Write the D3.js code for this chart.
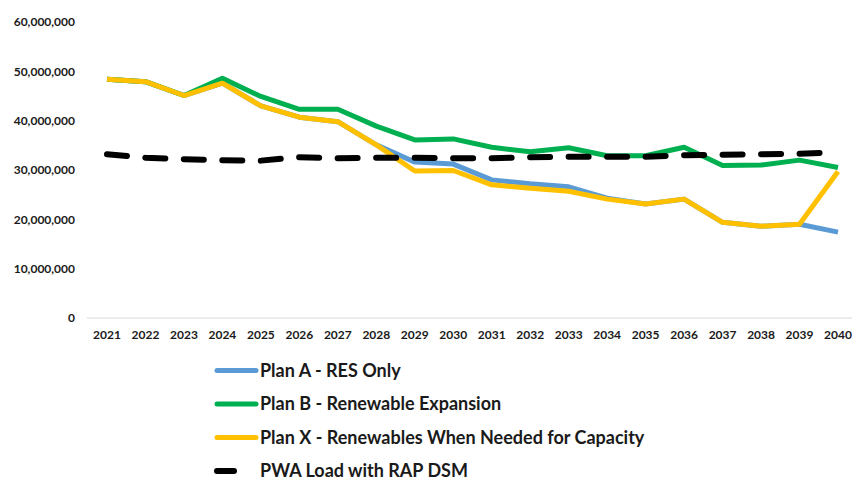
<!DOCTYPE html>
<html><head><meta charset="utf-8">
<script src="https://cdn.jsdelivr.net/npm/d3@7"></script>
<style>body{margin:0;background:#fff;} text{font-family:Lato,"Open Sans",sans-serif;font-weight:bold;fill:#1a1a1a;}</style>
</head><body><svg id="c" width="852" height="481"></svg>
<script>
const years = [2021,2022,2023,2024,2025,2026,2027,2028,2029,2030,2031,2032,2033,2034,2035,2036,2037,2038,2039,2040];
const planA = [48.4,47.9,45.1,47.6,43.0,40.7,39.8,35.1,31.6,31.2,28.0,27.2,26.6,24.3,23.1,24.1,19.4,18.6,19.0,17.4].map(v=>v*1e6);
const planB = [48.4,47.9,45.1,48.6,44.9,42.3,42.3,38.9,36.1,36.3,34.6,33.7,34.5,32.9,32.9,34.6,30.9,31.0,32.0,30.5].map(v=>v*1e6);
const planX = [48.4,47.9,45.1,47.6,43.0,40.7,39.8,35.1,29.8,29.9,27.0,26.3,25.7,24.1,23.1,24.1,19.4,18.6,19.0,29.7].map(v=>v*1e6);
const pwa   = [33.2,32.5,32.2,32.0,31.9,32.6,32.4,32.5,32.5,32.4,32.4,32.6,32.7,32.7,32.7,33.0,33.1,33.2,33.3,33.6].map(v=>v*1e6);
const yTicks = [0,10e6,20e6,30e6,40e6,50e6,60e6];
const seriesNames = ["Plan A - RES Only","Plan B - Renewable Expansion","Plan X - Renewables When Needed for Capacity","PWA Load with RAP DSM"];

const svg = d3.select("#c");
const x = d3.scalePoint().domain(years).range([107,838]);
const y = d3.scaleLinear().domain([0,60e6]).range([318,22]);

svg.append("line").attr("x1",87).attr("x2",852).attr("y1",y(0)).attr("y2",y(0)).attr("stroke","#d9d9d9").attr("stroke-width",1.2);

svg.append("g").selectAll("text").data(yTicks).join("text")
  .attr("x",75).attr("y",d=>y(d)).attr("dy","0.35em").attr("text-anchor","end")
  .attr("font-size",12).text(d=>d3.format(",")(d));
svg.append("g").selectAll("text").data(years).join("text")
  .attr("x",d=>x(d)).attr("y",335).attr("dy","0.35em").attr("text-anchor","middle")
  .attr("font-size",12).text(d=>d);

const line = d3.line().x((d,i)=>x(years[i])).y(d=>y(d));
const series = [
  {name:seriesNames[0], data:planA, color:"#5b9bd5", dash:null},
  {name:seriesNames[1], data:planB, color:"#00b050", dash:null},
  {name:seriesNames[2], data:planX, color:"#ffc000", dash:null},
  {name:seriesNames[3], data:pwa, color:"#000000", dash:"20,18.5"}
];
svg.append("g").selectAll("path").data(series).join("path")
  .attr("d",d=>line(d.data)).attr("fill","none").attr("stroke",d=>d.color)
  .attr("stroke-width",d=>d.dash?6:5).attr("stroke-linejoin","round")
  .attr("stroke-linecap",d=>d.dash?"round":"butt")
  .attr("stroke-dasharray",d=>d.dash);

const lg = svg.append("g").selectAll("g").data(series).join("g")
  .attr("transform",(d,i)=>`translate(0,${370.5+i*33.5})`);
lg.append("line").attr("x1",217).attr("x2",d=>d.dash?234:256).attr("y1",0).attr("y2",0)
  .attr("stroke",d=>d.color).attr("stroke-width",d=>d.dash?6:5).attr("stroke-linecap","round");
lg.append("text").attr("x",260).attr("y",0).attr("dy","0.35em").attr("font-size",18).text(d=>d.name);
</script></body></html>
